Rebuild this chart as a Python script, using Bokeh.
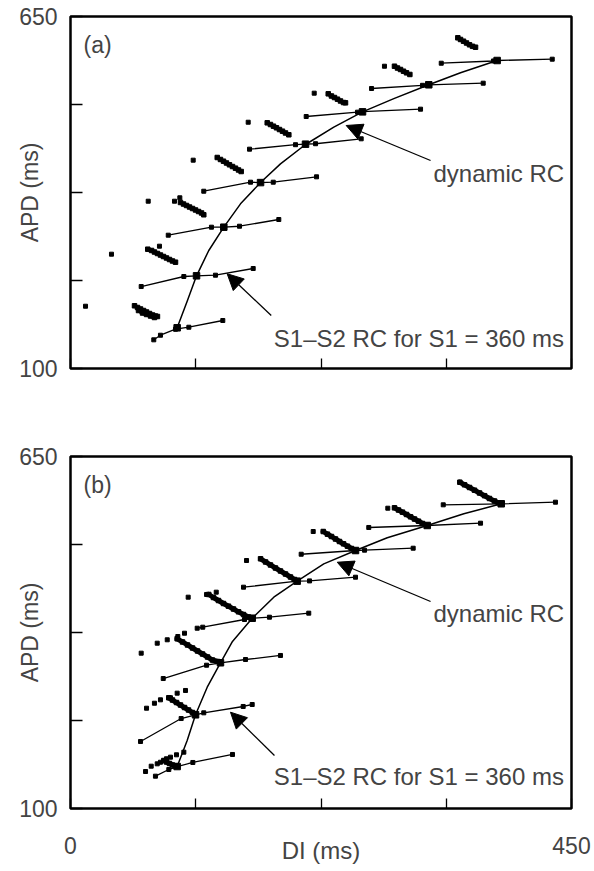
import numpy as np
from bokeh.plotting import figure
from bokeh.layouts import column
from bokeh.models import FixedTicker, Range1d, Label, Arrow, NormalHead, LinearAxis
from bokeh.embed import file_html
from bokeh.resources import INLINE

FONT = "Liberation Sans"

# ---------------- axis ticks ----------------
x_ticks = [0, 112.5, 225, 337.5, 450]
y_ticks = [100, 237.5, 375, 512.5, 650]
y_tick_labels = {100: "100", 237.5: "", 375: "", 512.5: "", 650: "650"}
x_tick_labels_b = {0: "0", 112.5: "", 225: "", 337.5: "", 450: "450"}

# ---------------- panel (a) ----------------
a_s1s2_di = [
    [74.8, 80.8, 94.3, 106.3, 136.8],
    [63.5, 101.8, 113.2, 130.2, 164.1],
    [87.8, 126.6, 137.7, 151.8, 187.1],
    [119.7, 161.7, 170.7, 182.1, 221.0],
    [160.8, 202.1, 211.1, 220.1, 261.1],
    [211.7, 257.8, 262.3, 314.4],
    [270.4, 316.2, 321.8, 370.7],
    [333.0, 379.9, 383.2, 432.7],
]
a_s1s2_apd = [
    [144.8, 152.0, 161.4, 164.5, 175.0],
    [228.1, 243.75, 244.8, 245.8, 256.25],
    [308.3, 320.8, 320.8, 322.3, 332.8],
    [377.0, 391.1, 390.5, 391.1, 399.5],
    [442.7, 449.7, 450.5, 451.2, 458.9],
    [493.75, 500.5, 501.3, 505.2],
    [537.5, 542.5, 543.3, 545.8],
    [577.0, 580.5, 581.25, 583.3],
]
a_steady_di = [95.8, 113.2, 137.7, 170.7, 211.1, 262.3, 321.8, 383.2]
a_steady_apd = [163.6, 244.8, 320.8, 390.5, 450.5, 501.0, 543.3, 581.25]
a_dyn_di = [95.8, 104.8, 113.2, 124.2, 137.7, 152.7, 170.7, 188.6, 211.1, 236.5, 262.3, 290.4, 321.8, 350.3, 383.2]
a_dyn_apd = [163.6, 205.2, 244.8, 284.4, 320.8, 357.3, 390.6, 419.8, 450.0, 477.1, 501.0, 521.6, 543.3, 562.2, 581.25]
a_iso_di = [13.5, 36.8, 79.9, 69.8, 93.4, 98.2, 110.2, 159.6, 218.9, 282.0]
a_iso_apd = [197.3, 278.6, 291.1, 361.4, 361.4, 366.7, 425.5, 484.8, 530.2, 572.3]
a_streak_di = [
    [57.5, 60.2, 62.9, 65.6, 68.3, 71.0, 73.7, 76.3, 78.1, 61.1, 64.7, 68.3, 71.9, 75.4],
    [69.4, 72.8, 75.4, 78.1, 80.8, 83.5, 86.2, 88.9, 91.6, 94.3],
    [98.8, 101.5, 104.2, 106.9, 109.6, 112.3, 115.0, 117.7, 119.7],
    [131.8, 134.7, 137.4, 140.1, 142.8, 145.5, 148.2, 150.9, 153.3],
    [176.7, 179.6, 182.3, 185.0, 187.7, 190.4, 193.1, 196.1],
    [231.5, 234.4, 237.1, 239.8, 242.5, 245.2, 247.0],
    [291.0, 293.7, 296.4, 299.1, 301.8, 304.8],
    [347.9, 350.3, 353.0, 355.7, 358.4, 361.1, 363.8],
]
a_streak_apd = [
    [198.0, 195.3, 193.0, 190.6, 188.3, 185.9, 183.6, 182.0, 181.25, 190.6, 186.7, 184.4, 182.0, 179.7],
    [286.4, 284.4, 282.0, 279.7, 277.3, 275.0, 272.7, 270.3, 268.0, 266.1],
    [359.4, 357.0, 354.7, 352.3, 350.0, 347.7, 345.3, 343.0, 340.2],
    [429.7, 426.6, 423.9, 421.1, 418.3, 415.6, 413.0, 410.2, 407.8],
    [483.9, 481.25, 478.6, 476.1, 473.4, 470.8, 468.0, 465.2],
    [529.2, 525.8, 523.4, 520.8, 518.0, 515.6, 515.1],
    [572.3, 569.5, 567.2, 564.5, 562.0, 559.4],
    [616.7, 614.1, 611.4, 608.6, 605.8, 603.4, 602.0],
]

# ---------------- panel (b) ----------------
b_s1s2_di = [
    [76.3, 88.3, 95.8, 109.9, 145.5],
    [62.9, 99.4, 112.3, 119.7, 155.1, 163.2],
    [83.3, 122.2, 134.7, 157.2, 188.6],
    [113.8, 118.8, 156.3, 163.2, 178.7, 214.0],
    [155.4, 203.6, 214.7, 256.0],
    [207.2, 256.0, 264.1, 307.8],
    [267.9, 320.4, 368.3],
    [334.8, 386.9, 435.6],
]
b_s1s2_apd = [
    [150.5, 160.9, 165.6, 171.9, 184.4],
    [204.7, 240.6, 246.4, 249.5, 259.4, 262.5],
    [303.1, 323.9, 327.7, 332.8, 339.1],
    [381.7, 383.3, 395.3, 397.3, 398.9, 405.2],
    [445.8, 455.2, 455.6, 461.4],
    [497.3, 503.1, 503.6, 506.7],
    [539.1, 542.2, 545.8],
    [574.5, 576.1, 578.6],
]
b_steady_di = [95.8, 112.3, 134.7, 163.2, 203.6, 256.0, 320.4, 386.9]
b_steady_apd = [165.6, 246.4, 327.7, 397.3, 455.2, 503.1, 542.2, 576.1]
b_dyn_di = [95.8, 104.8, 112.3, 122.8, 134.7, 145.5, 163.2, 182.6, 203.6, 227.5, 256.0, 284.5, 320.4, 353.3, 386.9]
b_dyn_apd = [165.6, 206.25, 246.4, 289.5, 327.7, 361.0, 397.3, 430.2, 455.2, 482.3, 503.1, 522.97, 542.2, 560.5, 576.1]
b_iso_di = [67.4, 72.5, 77.9, 80.8, 86.2, 89.8, 95.2, 101.8,
            68.3, 75.4, 80.8, 89.8, 95.8, 103.3,
            63.5, 77.9, 86.9, 96.4, 102.4,
            105.7, 122.2, 130.9,
            158.1, 218.0, 285.0]
b_iso_apd = [157.8, 166.1, 169.8, 172.3, 177.7, 180.2, 183.9, 188.0,
             256.7, 264.5, 269.8, 273.0, 280.2, 284.4,
             342.7, 358.3, 363.6, 368.75, 373.9,
             430.2, 434.4, 438.0,
             487.5, 532.8, 569.2]
b_streak_di = [
    [83.8, 86.2, 88.9, 91.6, 94.3],
    [88.3, 91.6, 95.2, 98.8, 102.4, 106.0, 109.6, 112.3],
    [95.8, 100.6, 105.1, 109.6, 114.1, 118.6, 123.1, 127.5, 132.0, 134.7],
    [124.2, 128.4, 132.9, 137.4, 141.9, 146.4, 150.9, 155.4, 159.9, 163.2],
    [170.7, 175.2, 179.6, 184.1, 188.6, 193.1, 197.6, 201.2, 203.6],
    [227.0, 230.8, 234.4, 238.0, 241.6, 245.2, 248.8, 252.4, 256.0],
    [291.0, 294.6, 298.2, 301.8, 305.4, 309.0, 312.6, 316.2, 320.4],
    [349.7, 353.9, 358.4, 362.9, 367.4, 371.9, 376.3, 380.8, 384.4, 386.9],
]
b_streak_apd = [
    [175.0, 172.7, 170.3, 168.0, 166.4],
    [273.0, 269.5, 265.6, 261.7, 257.8, 253.9, 250.0, 246.4],
    [365.2, 360.2, 355.5, 350.8, 346.1, 341.4, 336.7, 332.0, 329.7, 327.7],
    [434.4, 429.7, 425.0, 420.3, 416.1, 411.7, 407.3, 403.1, 399.2, 397.3],
    [490.2, 485.2, 480.5, 475.8, 471.1, 466.4, 461.7, 457.8, 455.2],
    [532.8, 528.6, 525.0, 521.1, 517.2, 513.6, 509.8, 506.25, 503.1],
    [569.8, 566.4, 563.0, 559.4, 555.8, 552.3, 548.9, 545.3, 542.2],
    [609.8, 605.8, 601.6, 597.3, 593.0, 588.75, 584.4, 580.5, 577.7, 576.1],
]

# annotation anchors (data units)
a_dyn_arrow = (323.4, 425.0, 247.6, 479.7)
b_dyn_arrow = (323.4, 423.4, 239.6, 484.8)
a_s1_arrow = (180.3, 182.8, 140.7, 248.0)
b_s1_arrow = (183.2, 182.8, 143.7, 250.5)
a_s1_text_y = 146.4
b_s1_text_y = 150.0


def make_panel(letter, s_di, s_apd, st_di, st_apd, d_di, d_apd, i_di, i_apd,
               k_di, k_apd, streak_w, dyn_arrow, s1_arrow, s1_text_y,
               top, bottom, x_labels):
    p = figure(frame_width=501, frame_height=352,
               x_range=Range1d(0, 450), y_range=Range1d(100, 650),
               output_backend="svg", toolbar_location=None,
               x_axis_type=None, y_axis_type=None,
               min_border_left=70, min_border_right=23,
               min_border_top=top, min_border_bottom=bottom)
    p.grid.visible = False
    p.outline_line_color = "black"
    p.outline_line_width = 2.5
    p.background_fill_color = "white"
    p.border_fill_color = "white"

    xa = LinearAxis(ticker=FixedTicker(ticks=x_ticks),
                    major_tick_in=10, major_tick_out=0,
                    major_tick_line_width=1.3,
                    minor_tick_line_color=None, axis_line_color=None,
                    major_label_text_font=FONT)
    if x_labels is None:
        xa.major_label_text_font_size = "1px"
        xa.major_label_standoff = 0
        xa.major_label_overrides = {t: "" for t in x_ticks}
    else:
        xa.major_label_text_font_size = "23px"
        xa.major_label_standoff = 28
        xa.major_label_overrides = x_labels
        xa.axis_label = "DI (ms)"
        xa.axis_label_text_font = FONT
        xa.axis_label_text_font_size = "24px"
        xa.axis_label_text_font_style = "normal"
        xa.axis_label_standoff = -20
    p.add_layout(xa, "below")

    ya = LinearAxis(ticker=FixedTicker(ticks=y_ticks),
                    major_tick_in=12, major_tick_out=0,
                    major_tick_line_width=1.3,
                    minor_tick_line_color=None, axis_line_color=None,
                    major_label_text_font=FONT,
                    major_label_text_font_size="23px",
                    major_label_standoff=13,
                    major_label_overrides=y_tick_labels,
                    axis_label="APD (ms)",
                    axis_label_text_font=FONT,
                    axis_label_text_font_size="23px",
                    axis_label_text_font_style="normal",
                    axis_label_standoff=-27)
    p.add_layout(ya, "left")

    # S1-S2 restitution curves
    for xs, ys in zip(s_di, s_apd):
        p.line(xs, ys, line_color="black", line_width=1.3, line_join="round")
        p.scatter(xs, ys, marker="square", size=4, color="black")
    # dynamic RC
    p.line(d_di, d_apd, line_color="black", line_width=1.5, line_join="round")
    p.scatter(st_di, st_apd, marker="square", size=6.5, color="black")
    # transient beats
    for xs, ys in zip(k_di, k_apd):
        p.line(xs, ys, line_color="black", line_width=streak_w,
               line_join="round", line_cap="round")
        p.scatter(xs, ys, marker="square", size=4.5, color="black")
    p.scatter(i_di, i_apd, marker="square", size=4, color="black")

    # annotations
    p.add_layout(Label(x=11.7, y=604.7, text=letter, text_align="left",
                       text_baseline="middle", text_font=FONT,
                       text_font_size="23px"))
    p.add_layout(Label(x=326.0, y=404.7, text="dynamic RC", text_align="left",
                       text_baseline="alphabetic", text_font=FONT,
                       text_font_size="24px"))
    p.add_layout(Label(x=182.6, y=s1_text_y, text="S1\u2013S2 RC for S1 = 360 ms",
                       text_align="left", text_baseline="alphabetic",
                       text_font=FONT, text_font_size="24px"))
    for (xs0, ys0, xe, ye) in (dyn_arrow, s1_arrow):
        p.add_layout(Arrow(end=NormalHead(size=16, fill_color="black",
                                          line_color="black", line_width=1),
                           x_start=xs0, y_start=ys0, x_end=xe, y_end=ye,
                           line_color="black", line_width=1.3))
    return p


pa = make_panel("(a)", a_s1s2_di, a_s1s2_apd, a_steady_di, a_steady_apd,
                a_dyn_di, a_dyn_apd, a_iso_di, a_iso_apd,
                a_streak_di, a_streak_apd, 4.0, a_dyn_arrow, a_s1_arrow,
                a_s1_text_y, top=16, bottom=40, x_labels=None)
pb = make_panel("(b)", b_s1s2_di, b_s1s2_apd, b_steady_di, b_steady_apd,
                b_dyn_di, b_dyn_apd, b_iso_di, b_iso_apd,
                b_streak_di, b_streak_apd, 5.0, b_dyn_arrow, b_s1_arrow,
                b_s1_text_y, top=48, bottom=63, x_labels=x_tick_labels_b)

layout = column(pa, pb)
open("out.html", "w").write(file_html(layout, INLINE))
